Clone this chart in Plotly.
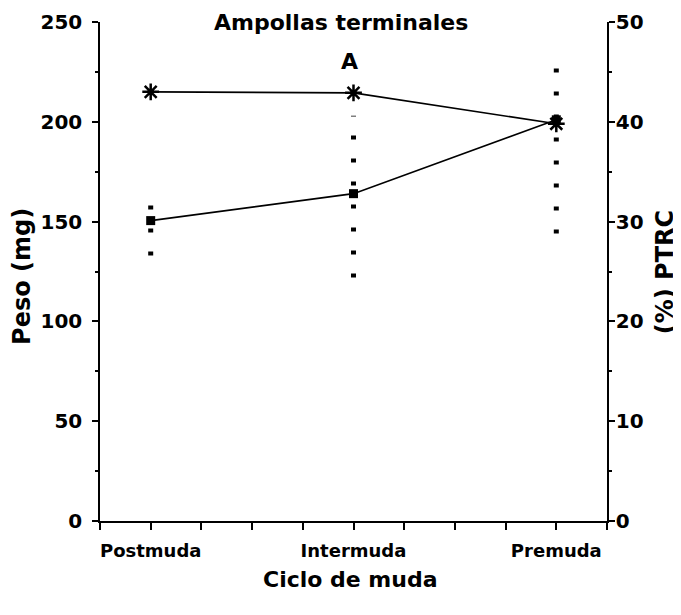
import plotly.graph_objects as go

# categories placed on a 0..10 tick scale
etapas = ["Postmuda", "Intermuda", "Premuda"]
pos_etapas = [1, 5, 9]

# Peso (mg), left axis
peso = [150.5, 164, 201]
peso_lo = [133, 122, 144]
peso_hi = [159, 203, 236]

# PTRC (%), right axis
ptrc = [43.0, 42.9, 39.8]

FONT = "DejaVu Sans"

fig = go.Figure()

# dotted vertical spread for each stage
for x, lo, hi in zip(pos_etapas, peso_lo, peso_hi):
    fig.add_trace(go.Scatter(
        x=[x, x], y=[lo, hi], mode="lines",
        line=dict(color="black", width=5, dash="4px,19px"),
        hoverinfo="skip"))

fig.add_trace(go.Scatter(
    x=pos_etapas, y=peso, mode="lines+markers", name="Peso",
    line=dict(color="black", width=1.6),
    marker=dict(symbol="square", size=9, color="black")))

fig.add_trace(go.Scatter(
    x=pos_etapas, y=ptrc, mode="lines+markers", name="PTRC", yaxis="y2",
    line=dict(color="black", width=1.6),
    marker=dict(symbol="asterisk-open", size=14,
                line=dict(color="black", width=2.5))))

ytick_font = dict(family=FONT, size=20, color="black", weight="bold")
xtick_font = dict(family=FONT, size=18, color="black", weight="bold")
title_font = dict(family=FONT, size=22, color="black", weight="bold")
side_font = dict(family=FONT, size=24, color="black", weight="bold")

xticks = list(range(0, 11))
xtext = ["" for _ in xticks]
for p, e in zip(pos_etapas, etapas):
    xtext[p] = e

# page body adds an 8px offset, so the figure is a bit smaller than the window
fig.update_layout(
    width=673, height=607,
    margin=dict(l=92, r=74, t=14, b=94),
    plot_bgcolor="white", paper_bgcolor="white",
    showlegend=False,
    xaxis=dict(range=[0, 10], tickvals=xticks, ticktext=xtext,
               ticks="outside", ticklen=7, tickwidth=1.5, tickcolor="black",
               showline=True, linecolor="black", linewidth=1.5,
               showgrid=False, zeroline=False, tickfont=xtick_font,
               ticklabelstandoff=6, automargin=False),
    yaxis=dict(range=[0, 250], dtick=50,
               ticks="outside", ticklen=6, tickwidth=1.5, tickcolor="black",
               minor=dict(dtick=25, ticks="outside", ticklen=3, tickcolor="black"),
               showline=True, linecolor="black", linewidth=1.5,
               showgrid=False, zeroline=False, tickfont=ytick_font,
               ticklabelstandoff=6, automargin=False),
    yaxis2=dict(range=[0, 50], dtick=10, overlaying="y", side="right",
                ticks="outside", ticklen=6, tickwidth=1.5, tickcolor="black",
                minor=dict(dtick=5, ticks="outside", ticklen=3, tickcolor="black"),
                showline=True, linecolor="black", linewidth=1.5,
                showgrid=False, zeroline=False, tickfont=ytick_font,
                ticklabelstandoff=-3, automargin=False),
    annotations=[
        dict(text="Ampollas terminales", x=0.475, y=1.0, xref="paper", yref="paper",
             xanchor="center", yanchor="middle", showarrow=False, font=title_font),
        dict(text="A", x=0.493, y=0.92, xref="paper", yref="paper",
             xanchor="center", yanchor="middle", showarrow=False,
             font=dict(family=FONT, size=22, color="black", weight="bold")),
        dict(text="Ciclo de muda", x=0.495, y=-0.118, xref="paper", yref="paper",
             xanchor="center", yanchor="middle", showarrow=False, font=title_font),
        dict(text="Peso (mg)", x=-0.154, y=0.491, xref="paper", yref="paper",
             xanchor="center", yanchor="middle", showarrow=False, textangle=-90,
             font=side_font),
        dict(text="(%) PTRC", x=1.115, y=0.499, xref="paper", yref="paper",
             xanchor="center", yanchor="middle", showarrow=False, textangle=-90,
             font=side_font),
    ],
)

fig.write_html("out.html")
